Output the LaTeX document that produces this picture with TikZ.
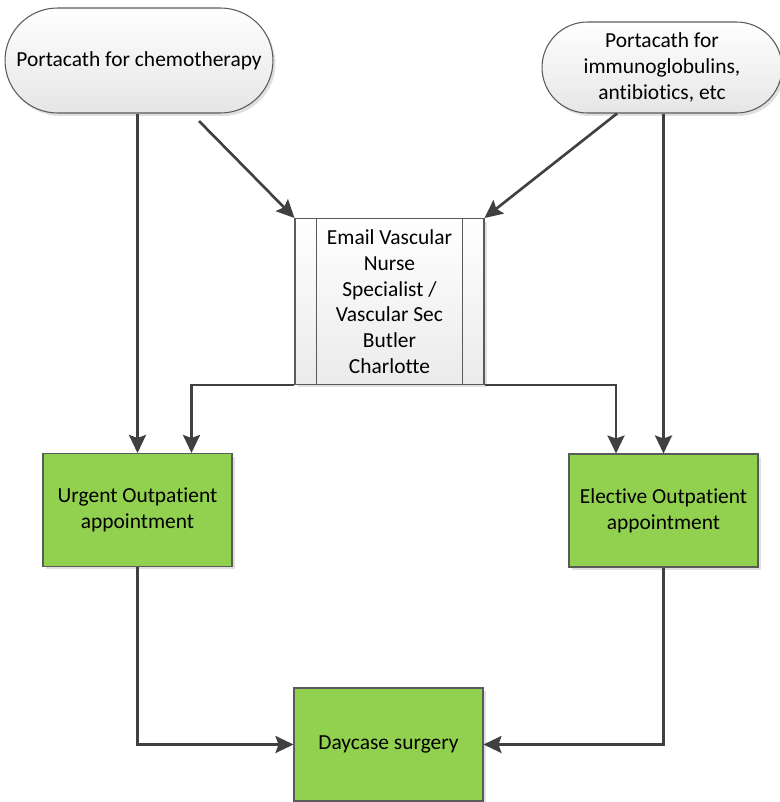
\documentclass[tikz,border=0pt]{standalone}
\usepackage{fontspec}
\setmainfont[RawFeature={-liga;-clig;-calt;-dlig}]{Carlito}
\usetikzlibrary{arrows.meta,shadows}
\definecolor{boxgreen}{HTML}{92D050}
\definecolor{edgegray}{HTML}{5A5A5A}
\definecolor{arrowgray}{HTML}{404040}
\tikzstyle{terminal}=[rectangle, draw=edgegray, line width=0.6pt, top color=white, bottom color=black!10, drop shadow={shadow xshift=0.05cm, shadow yshift=-0.06cm, fill=black!12, opacity=1}, align=center, font=\fontsize{12.2}{15}\selectfont]
\tikzstyle{process}=[rectangle, draw=edgegray, line width=0.6pt, fill=boxgreen, drop shadow={shadow xshift=0.06cm, shadow yshift=-0.06cm, fill=black!12, opacity=1}, minimum width=3.78cm, minimum height=2.26cm, align=center, font=\fontsize{12.2}{15}\selectfont]
\tikzstyle{subproc}=[rectangle, draw=edgegray, line width=0.6pt, top color=white, bottom color=black!8, drop shadow={shadow xshift=0.06cm, shadow yshift=-0.06cm, fill=black!12, opacity=1}, minimum width=3.78cm, minimum height=3.32cm, align=center, font=\fontsize{12.2}{14.6}\selectfont]
\tikzstyle{arrow}=[draw=arrowgray, line width=1.5pt, >={Stealth[length=3.6mm, width=3.4mm, inset=0.6mm]}]

\begin{document}
\begin{tikzpicture}[x=0.02cm, y=-0.02cm]
	\useasboundingbox (0,0) rectangle (780,802);
	\begin{scope}
		\node (chemo) at (139, 60.5)[terminal, minimum width=5.36cm, minimum height=2.1cm, rounded corners=1.05cm] {Portacath for chemotherapy};
		\node (immuno) at (662, 67.5)[terminal, minimum width=4.8cm, minimum height=1.82cm, rounded corners=0.91cm] {Portacath for\\immunoglobulins,\\antibiotics, etc};
		\node (email) at (389.5, 301.5)[subproc] {Email Vascular\\Nurse\\Specialist /\\Vascular Sec\\Butler\\Charlotte};
		\node (urgent) at (137.5, 510)[process] {Urgent Outpatient\\appointment};
		\node (elective) at (663.5, 510.5)[process] {Elective Outpatient\\appointment};
		\node (daycase) at (388.5, 744.5)[process] {Daycase surgery};
		\coordinate (chemoout) at (199, 121);
	\end{scope}
	\begin{scope}
		\path [draw=edgegray, line width=0.6pt] ([xshift=0.44cm]email.north west) -- ([xshift=0.44cm]email.south west);
		\path [draw=edgegray, line width=0.6pt] ([xshift=-0.44cm]email.north east) -- ([xshift=-0.44cm]email.south east);
	\end{scope}
	\begin{scope}
		\path [arrow, ->] (urgent.north |- chemo.south) -- (urgent.north);
		\path [arrow, ->] (chemoout) -- (email.north west);
		\path [arrow, ->] ([xshift=-0.9cm]immuno.south) -- (email.north east);
		\path [arrow, ->] (elective.north |- immuno.south) -- (elective.north);
		\path [arrow, ->] (email.south west) -| ([xshift=1.08cm]urgent.north);
		\path [arrow, ->] (email.south east) -| ([xshift=-0.95cm]elective.north);
		\path [arrow, ->] (urgent.south) |- (daycase.west);
		\path [arrow, ->] (elective.south) |- (daycase.east);
	\end{scope}
\end{tikzpicture}
\end{document}
